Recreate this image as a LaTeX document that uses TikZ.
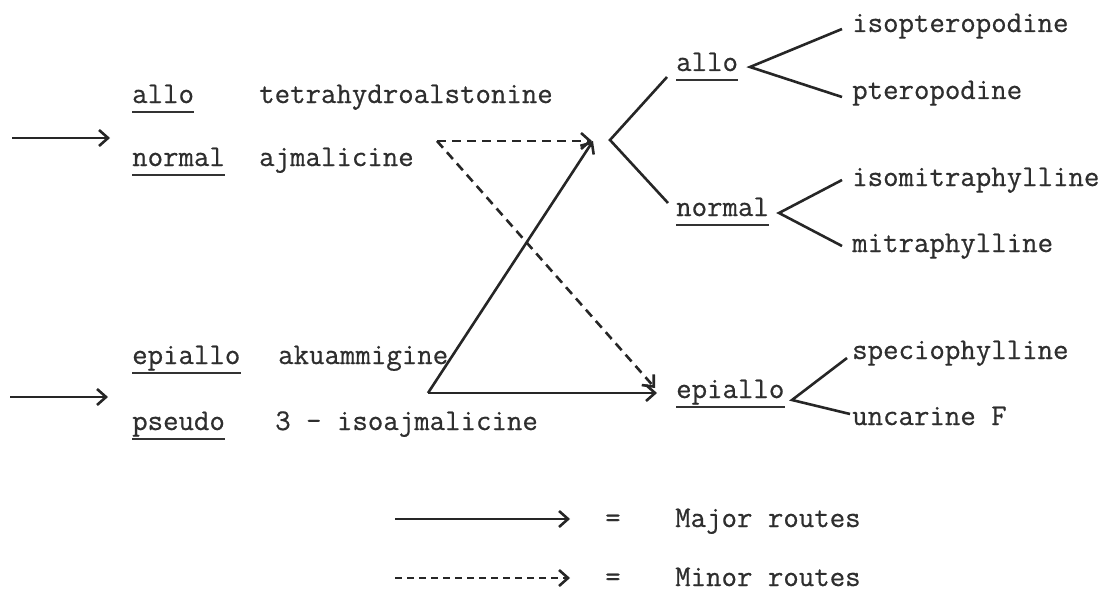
\documentclass[tikz,border=0pt]{standalone}
\usepackage{fontspec}
\newfontfamily\tw[FakeBold=0.6]{Latin Modern Mono}
\usetikzlibrary{arrows.meta}
\begin{document}
\begin{tikzpicture}[x=1pt,y=-1pt,
  lbl/.style={anchor=base west,inner sep=0pt,font=\tw\fontsize{30}{36}\selectfont,text=black!82},
  ln/.style={line width=2.6pt,black!85},
  arr/.style={ln,-{Straight Barb[length=9pt,width=16pt,line width=2.6pt]}},
  darr/.style={arr,dash pattern=on 9pt off 6pt},
  ul/.style={line width=2.6pt,black!80}]
\useasboundingbox (0,0) rectangle (1110,591);
% left labels
\node[lbl] (lallo) at (132,103) {allo};
\node[lbl] (tha) at (259,103) {tetrahydroalstonine};
\node[lbl] (lnorm) at (132,166) {normal};
\node[lbl] (ajm) at (259,166) {ajmalicine};
\node[lbl] (lepi) at (132,364) {epiallo};
\node[lbl] (aku) at (278,364) {akuammigine};
\node[lbl] (lpse) at (132,430) {pseudo};
\node[lbl] (iso) at (275,430) {3 - isoajmalicine};
% right labels
\node[lbl] (rallo) at (676,71) {allo};
\node[lbl] (rnorm) at (676,216) {normal};
\node[lbl] (repi) at (676,398) {epiallo};
\node[lbl] (ipt) at (852,32) {isopteropodine};
\node[lbl] (pt) at (852,99) {pteropodine};
\node[lbl] (imi) at (852,186) {isomitraphylline};
\node[lbl] (mi) at (852,252) {mitraphylline};
\node[lbl] (spe) at (852,359) {speciophylline};
\node[lbl] (unc) at (852,425) {uncarine F};
% underlines
\foreach \n in {lallo,lnorm,lepi,lpse,rallo,rnorm,repi}
  \draw[ul] ([yshift=-9pt]\n.base west) -- ([yshift=-9pt]\n.base east);
% coordinates
\coordinate (ina) at (12,138);
\coordinate (inb) at (110,138);
\coordinate (inc) at (10,397);
\coordinate (ind) at (108,397);
\coordinate (corner) at (428,393);
\coordinate (top) at (593,141);
\coordinate (epiin) at (657,393);
\coordinate (dstart) at (437,141);
\coordinate (dtop) at (592,141);
\coordinate (depi) at (655,388);
\coordinate (v0) at (610,140);
\coordinate (v0a) at (667,77);
\coordinate (v0b) at (668,203);
\coordinate (v1) at (750,67);
\coordinate (v1a) at (842,29);
\coordinate (v1b) at (842,97);
\coordinate (v2) at (779,213);
\coordinate (v2a) at (842,180);
\coordinate (v2b) at (842,246);
\coordinate (v3) at (792,400);
\coordinate (v3a) at (847,358);
\coordinate (v3b) at (850,414);
% input arrows
\draw[arr] (ina) -- (inb);
\draw[arr] (inc) -- (ind);
% main routes
\draw[arr] (corner) -- (top);
\draw[arr] (corner) -- (epiin);
\draw[darr] (dstart) -- (dtop);
\draw[darr] (dstart) -- (depi);
% branches
\draw[ln] (v0a) -- (v0) -- (v0b);
\draw[ln] (v1a) -- (v1) -- (v1b);
\draw[ln] (v2a) -- (v2) -- (v2b);
\draw[ln] (v3a) -- (v3) -- (v3b);
% legend
\coordinate (la) at (395,519);
\coordinate (lb) at (570,519);
\coordinate (lc) at (395,578);
\coordinate (ld) at (570,578);
\draw[arr] (la) -- (lb);
\draw[darr,dash pattern=on 7pt off 5pt] (lc) -- (ld);
\node[lbl] (eq1) at (605,527) {=};
\node[lbl] (maj) at (675,527) {Major routes};
\node[lbl] (eq2) at (605,586) {=};
\node[lbl] (min) at (675,586) {Minor routes};
\end{tikzpicture}
\end{document}
